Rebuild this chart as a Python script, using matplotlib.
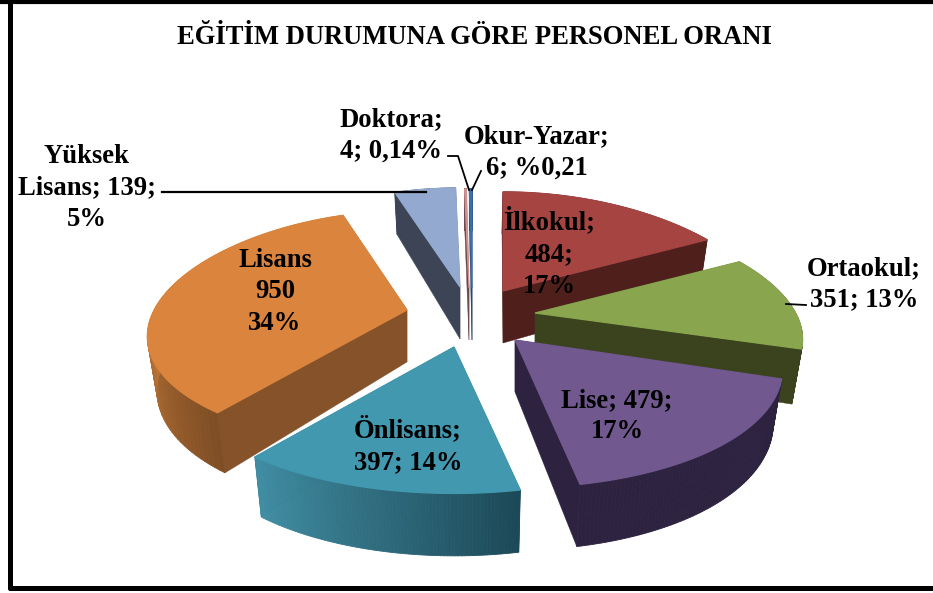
import numpy as np
import matplotlib
matplotlib.use("Agg")
import matplotlib.pyplot as plt
from matplotlib.patches import Polygon

plt.rcParams['font.family'] = ['Liberation Serif', 'DejaVu Serif']

names = ['İlkokul', 'Ortaokul', 'Lise', 'Önlisans', 'Lisans', 'Yüksek Lisans', 'Doktora', 'Okur-Yazar']
values = [484, 351, 479, 397, 950, 139, 4, 6]
top_colors = ['#A64442', '#89A54E', '#71588F', '#4198AF', '#DB843D', '#93A9CF', '#D19392', '#3D6FA8']
wall_light = ['#4F1F1C', '#3A421E', '#2D2340', '#418EA4', '#C87C38', '#3C4456', '#6B4A4A', '#27476D']
wall_dark = ['#4F1F1C', '#3A421E', '#2D2340', '#1C4957', '#7F4E25', '#3C4456', '#6B4A4A', '#27476D']
side_colors = ['#4F1F1C', '#3A421E', '#2D2340', '#1C4957', '#85522A', '#3C4456', '#6B4A4A', '#27476D']
# where each slice's tip lands in the picture (pixels), and small per slice stretch
apex = [(503, 291), (535, 313), (515, 340), (454, 347), (407, 310), (460, 287), (469, 288), (472, 288)]
stretch_x = [1.01, 1.01, 1.01, 1.03, 0.98, 1.0, 1.0, 1.0]
stretch_y = [1.0, 1.0, 1.08, 1.07, 1.0, 1.0, 1.0, 1.0]
draw_order = [0, 5, 6, 7, 4, 1, 3, 2]

R = 258
persp = 0.24
ry = 118
persp_y = 0.16
depth = 52
x_mid = 470

fig = plt.figure(figsize=(9.33, 5.93), dpi=100)
ax = fig.add_axes([0, 0, 1, 1])
ax.set_xlim(0, 933)
ax.set_ylim(593, 0)
ax.axis('off')

# frame (open on the right)
ax.plot([10, 10], [0, 588], color='black', lw=3.6, solid_capstyle='round')
ax.plot([10, 933], [588, 588], color='black', lw=3.6, solid_capstyle='round')
ax.plot([0, 933], [1.5, 1.5], color='black', lw=3)


def rim(i, ang):
    tip = apex[i]
    u, v = np.sin(ang), -np.cos(ang)
    return (tip[0] + stretch_x[i] * R * u * (1 + persp * v),
            tip[1] + stretch_y[i] * ry * v * (1 + persp_y * v))


def lower(x, y, ang):
    # point under the top face, walls lean a bit towards the middle
    return x - (x - x_mid) * 0.03, y + depth * (1 + 0.2 * (-np.cos(ang)))


def mix(c1, c2, t):
    a = np.array(matplotlib.colors.to_rgb(c1))
    b = np.array(matplotlib.colors.to_rgb(c2))
    return a + (b - a) * t


total = sum(values)
edges = np.radians(np.concatenate([[0], np.cumsum(values)]) / total * 360)

for order, i in enumerate(draw_order):
    t0, t1 = edges[i], edges[i + 1]
    angs = np.linspace(t0, t1, 80)
    tip = apex[i]
    xs, ys = rim(i, angs)
    bx, by = lower(xs, ys, angs)
    z = 2 + order

    # straight side walls
    for k in [0, -1]:
        ax.add_patch(Polygon([tip, (xs[k], ys[k]), (bx[k], by[k]), (tip[0], tip[1] + depth)],
                             closed=True, fc=side_colors[i], ec=side_colors[i], lw=0.3, zorder=z))
    # curved outer wall, shaded piece by piece
    for k in range(len(angs) - 1):
        c = mix(wall_light[i], wall_dark[i], k / (len(angs) - 2))
        if i == 4:
            c = mix(wall_dark[i], wall_light[i], np.clip((np.degrees(angs[k]) - 219) / 55, 0, 1))
        if i == 3:
            c = mix(wall_dark[i], wall_light[i], k / (len(angs) - 2))
        ax.add_patch(Polygon([(xs[k], ys[k]), (xs[k + 1], ys[k + 1]), (bx[k + 1], by[k + 1]), (bx[k], by[k])],
                             closed=True, fc=c, ec=c, lw=0.6, zorder=z))
    # top face
    ax.add_patch(Polygon([tip] + list(zip(xs, ys)), closed=True, fc=top_colors[i],
                         ec=top_colors[i], lw=0.9, zorder=z))

ax.text(474, 37, 'EĞİTİM DURUMUNA GÖRE PERSONEL ORANI', ha='center', va='center',
        fontsize=19.2, fontweight='bold', zorder=20)

labels = [
    ('İlkokul;\n484;\n17%', 549, 253),
    ('Ortaokul;\n351; 13%', 864, 284),
    ('Lise; 479;\n17%', 617, 416),
    ('Önlisans;\n397; 14%', 408, 446),
    ('Lisans\n950\n34%', 275, 292),
    ('Yüksek\nLisans; 139;\n5%', 87, 188),
    ('Doktora;\n4; 0,14%', 391, 135),
    ('Okur-Yazar;\n6; %0,21', 537, 152),
]
for txt, x, y in labels:
    ax.text(x, y, txt, ha='center', va='center', fontsize=19.2, fontweight='bold',
            linespacing=1.35, zorder=20)

# leader lines
ax.plot([162, 426], [192, 192], color='black', lw=1.6, zorder=15)
ax.plot([448, 458, 469], [156, 156, 190], color='black', lw=1.3, zorder=15)
ax.plot([481, 472], [171, 190], color='black', lw=1.3, zorder=15)
ax.plot([786, 806], [304, 305], color='black', lw=1.3, zorder=15)

fig.savefig('out.png', dpi=100)
